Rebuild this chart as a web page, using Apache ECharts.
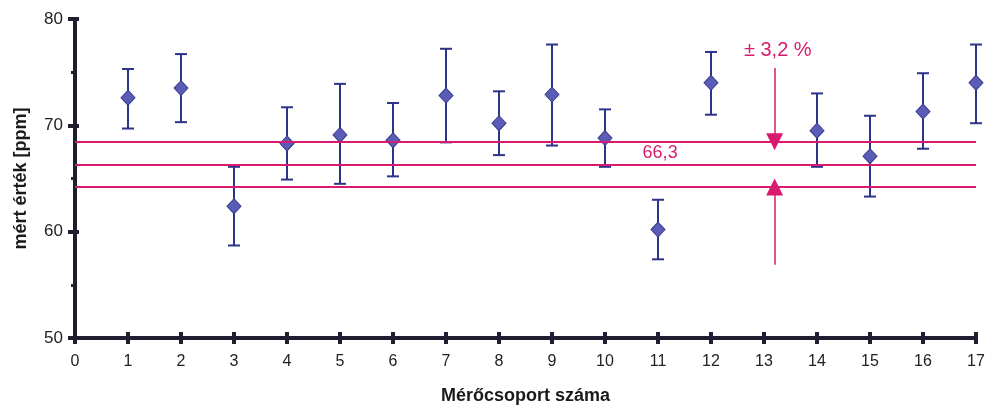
<!DOCTYPE html>
<html>
<head>
<meta charset="utf-8">
<script src="https://cdn.jsdelivr.net/npm/echarts@6/dist/echarts.min.js"></script>
<style>
html,body{margin:0;padding:0;background:#fff;}
#chart{width:987px;height:406px;}
</style>
</head>
<body>
<div id="chart"></div>
<script>
// ---- data ----
const groups     = [1, 2, 3, 4, 5, 6, 7, 8, 9, 10, 11, 12, 14, 15, 16, 17];
const meanValues = [72.6, 73.5, 62.4, 68.3, 69.1, 68.6, 72.8, 70.2, 72.9, 68.8, 60.2, 74.0, 69.5, 67.1, 71.3, 74.0];
const upperValues= [75.3, 76.7, 66.1, 71.7, 73.9, 72.1, 77.2, 73.2, 77.6, 71.5, 63.0, 76.9, 73.0, 70.9, 74.9, 77.6];
const lowerValues= [69.7, 70.3, 58.7, 64.9, 64.5, 65.2, 68.4, 67.2, 68.1, 66.1, 57.4, 71.0, 66.1, 63.3, 67.8, 70.2];
const refLines   = [64.18, 66.3, 68.42];
const refLabel   = '66,3';
const tolLabel   = '± 3,2 %';
const xTicks     = [0, 17, 1];
const yTicks     = [50, 80, 10];
const arrowX     = 13.2;
const arrowDown  = [75.4, 68.45];
const arrowUp    = [56.9, 64.2];

const pink = '#d81b6e';
const navy = '#2b3488';
const axisColor = '#1e1e30';

const errData = groups.map((g, i) => [g, lowerValues[i], upperValues[i]]);
const ptData  = groups.map((g, i) => [g, meanValues[i]]);

const chart = echarts.init(document.getElementById('chart'));
const font = '"Liberation Sans", Arial, sans-serif';

chart.setOption({
  animation: false,
  backgroundColor: '#ffffff',
  grid: { left: 75, right: 11, top: 19, bottom: 68, containLabel: false, outerBoundsMode: 'none' },
  xAxis: [{
    type: 'value', min: xTicks[0], max: xTicks[1], interval: xTicks[2],
    name: 'Mérőcsoport száma', nameLocation: 'middle', nameGap: 49,
    nameTextStyle: { fontFamily: font, fontSize: 18, fontWeight: 'bold', color: '#1a1a1a' },
    axisLine: { show: true, onZero: false, lineStyle: { color: axisColor, width: 4 } },
    axisTick: { show: true, inside: false, length: 6, lineStyle: { color: axisColor, width: 4 } },
    axisLabel: { fontFamily: font, fontSize: 16, color: '#222', margin: 16 },
    splitLine: { show: false }
  }, {
    type: 'value', min: xTicks[0], max: xTicks[1], interval: xTicks[2], position: 'bottom',
    axisLine: { show: false },
    axisTick: { show: true, inside: true, length: 6, lineStyle: { color: axisColor, width: 4 } },
    axisLabel: { show: false },
    splitLine: { show: false }
  }],
  yAxis: [{
    type: 'value', min: yTicks[0], max: yTicks[1], interval: yTicks[2],
    name: 'mért érték [ppm]', nameLocation: 'middle', nameGap: 45, nameRotate: 90,
    nameTextStyle: { fontFamily: font, fontSize: 18, fontWeight: 'bold', color: '#1a1a1a' },
    axisLine: { show: true, onZero: false, lineStyle: { color: axisColor, width: 4 } },
    axisTick: { show: true, inside: false, length: 7, lineStyle: { color: axisColor, width: 4 } },
    minorTick: { show: true, splitNumber: 2, length: 4, lineStyle: { color: axisColor, width: 3 } },
    axisLabel: { fontFamily: font, fontSize: 17, color: '#222', margin: 12 },
    splitLine: { show: false }
  }, {
    type: 'value', min: yTicks[0], max: yTicks[1], interval: yTicks[2], position: 'left',
    axisLine: { show: false },
    axisTick: { show: true, inside: true, length: 4, lineStyle: { color: axisColor, width: 4 } },
    axisLabel: { show: false },
    splitLine: { show: false }
  }],
  series: [
    {
      type: 'line', data: [], silent: true,
      markLine: {
        silent: true, symbol: ['none', 'none'],
        lineStyle: { color: pink, width: 2, type: 'solid' },
        label: { show: false },
        data: refLines.map(v => [{ coord: [xTicks[0], v] }, { coord: [xTicks[1], v] }])
      }
    },
    {
      type: 'line', data: [], silent: true,
      markLine: {
        silent: true, symbol: ['none', 'triangle'], symbolSize: [17, 17],
        lineStyle: { color: pink, width: 1.5, type: 'solid' },
        itemStyle: { color: pink },
        label: { show: false },
        data: [
          [{ coord: [arrowX, arrowDown[0]] }, { coord: [arrowX, arrowDown[1]] }],
          [{ coord: [arrowX, arrowUp[0]] }, { coord: [arrowX, arrowUp[1]] }]
        ]
      },
      markPoint: {
        silent: true, symbol: 'circle', symbolSize: 0,
        data: [
          { coord: [11.04, 67.4], label: { show: true, formatter: refLabel, position: 'inside', color: pink, fontFamily: font, fontSize: 18 } },
          { coord: [13.26, 77.0], label: { show: true, formatter: tolLabel, position: 'inside', color: pink, fontFamily: font, fontSize: 20 } }
        ]
      }
    },
    {
      type: 'custom', data: errData, z: 3,
      renderItem: function (params, api) {
        const x = api.value(0);
        const lo = api.coord([x, api.value(1)]);
        const hi = api.coord([x, api.value(2)]);
        const hw = 6;
        const style = { stroke: navy, lineWidth: 2 };
        return { type: 'group', children: [
          { type: 'line', shape: { x1: lo[0], y1: lo[1], x2: hi[0], y2: hi[1] }, style: style },
          { type: 'line', shape: { x1: hi[0] - hw, y1: hi[1], x2: hi[0] + hw, y2: hi[1] }, style: style },
          { type: 'line', shape: { x1: lo[0] - hw, y1: lo[1], x2: lo[0] + hw, y2: lo[1] }, style: style }
        ]};
      }
    },
    {
      type: 'scatter', data: ptData, z: 4,
      symbol: 'diamond', symbolSize: [14, 15],
      itemStyle: { color: '#5a5cb6', borderColor: '#3c3e90', borderWidth: 1, opacity: 1 }
    }
  ]
});
</script>
</body>
</html>
